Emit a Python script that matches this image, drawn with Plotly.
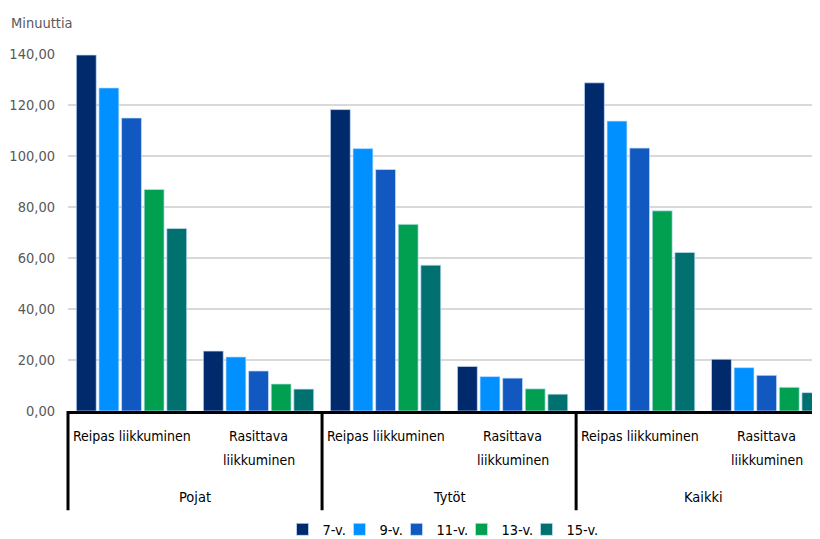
import plotly.graph_objects as go

groups = ["Pojat", "Tytöt", "Kaikki"]
subcats = ["Reipas liikkuminen", "Rasittava<br>liikkuminen"]
series = ["7-v.", "9-v.", "11-v.", "13-v.", "15-v."]
colors = ["#002a6c", "#0090ff", "#1159c0", "#00a050", "#00716f"]

# values per series, order: Pojat-Reipas, Pojat-Rasittava, Tytöt-Reipas, Tytöt-Rasittava, Kaikki-Reipas, Kaikki-Rasittava
v7 = [139.6, 23.5, 118.2, 17.5, 128.7, 20.3]
v9 = [126.7, 21.2, 102.9, 13.5, 113.7, 17.0]
v11 = [114.9, 15.7, 94.7, 12.9, 103.1, 14.0]
v13 = [86.9, 10.6, 73.2, 8.7, 78.5, 9.3]
v15 = [71.6, 8.6, 57.2, 6.6, 62.2, 7.2]
values = [v7, v9, v11, v13, v15]

yticks = [0, 20, 40, 60, 80, 100, 120, 140]

FONT = "DejaVu Sans Condensed, Liberation Sans Narrow, sans-serif"

n_sub = len(subcats)
xs = list(range(len(groups) * n_sub))
xmin, xmax = -0.5, 5.42

legend_widths = [12, 12, 20, 20, 34]

fig = go.Figure()
for name, col, vals, lw in zip(series, colors, values, legend_widths):
    fig.add_trace(go.Bar(
        x=xs, y=vals, name=name, legendwidth=lw,
        marker=dict(color=col, line=dict(color="rgba(200,225,255,0.7)", width=1)),
    ))

def px(v):
    return (v - xmin) / (xmax - xmin)

annotations = []
# subcategory labels
for gi, g in enumerate(groups):
    for si, s in enumerate(subcats):
        idx = gi * n_sub + si
        for li, line in enumerate(s.split("<br>")):
            annotations.append(dict(
                x=idx, xref="x", y=0, yref="paper", text=line, showarrow=False,
                yanchor="middle", xanchor="center", yshift=-(25 + 24 * li),
                font=dict(family=FONT, size=14, color="#000000"),
            ))
    annotations.append(dict(
        x=gi * n_sub + (n_sub - 1) / 2, xref="x", y=0, yref="paper", text=g,
        showarrow=False, yanchor="middle", xanchor="center", yshift=-86,
        font=dict(family=FONT, size=14.5, color="#000000"),
    ))
annotations.append(dict(
    x=0, xref="paper", xanchor="left", xshift=-59, y=1, yref="paper", yanchor="middle",
    yshift=31, text="Minuuttia", showarrow=False,
    font=dict(family=FONT, size=14.5, color="#595959"),
))

shapes = []
for gi in range(len(groups) + 1):
    xb = gi * n_sub - 0.5
    if xb > xmax:
        continue
    shapes.append(dict(
        type="line", xref="paper", yref="paper", x0=px(xb), x1=px(xb),
        y0=0, y1=-0.278, line=dict(color="#000000", width=3),
    ))

fig.update_layout(
    width=812, height=531,
    margin=dict(l=60, r=0, t=46, b=128),
    paper_bgcolor="white", plot_bgcolor="white",
    barmode="group", bargap=0.11, bargroupgap=0.12,
    separators=",.",
    font=dict(family=FONT, size=14, color="#000000"),
    xaxis=dict(range=[xmin, xmax], showticklabels=False, showgrid=False,
               zeroline=False, showline=True, linecolor="#000000", linewidth=3,
               ticks="", automargin=False),
    yaxis=dict(range=[0, 140], tickvals=yticks, tickformat=".2f",
               showgrid=True, gridcolor="#d9d9d9", gridwidth=1.5,
               zeroline=False, showline=False, ticks="", automargin=False,
               ticklabelstandoff=12,
               tickfont=dict(family=FONT, size=14.5, color="#595959")),
    legend=dict(orientation="h", x=0.50, xanchor="center",
                yref="container", y=0.018, yanchor="middle",
                font=dict(family=FONT, size=14.5, color="#000000"),
                itemwidth=30, traceorder="normal"),
    annotations=annotations,
    shapes=shapes,
)

fig.write_html("out.html")
